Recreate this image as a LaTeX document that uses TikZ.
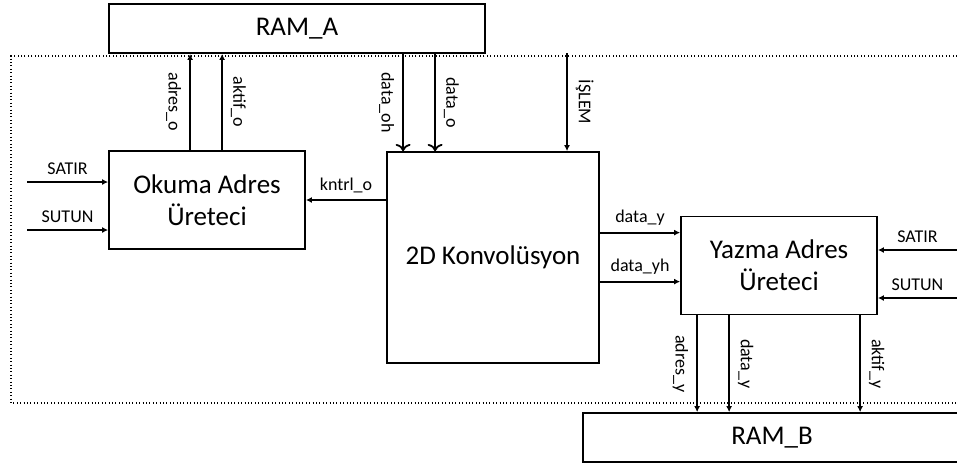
\documentclass[tikz,border=0pt]{standalone}
\usepackage{fontspec}
\setmainfont{Carlito}
\usetikzlibrary{arrows.meta}

\begin{document}
\begin{tikzpicture}[x=0.5pt, y=-0.5pt, line width=0.9pt,
  blok/.style={draw, rectangle, align=center, font=\fontsize{13.5}{16}\selectfont},
  sinyal/.style={-{Latex[length=3pt,width=3pt]}},
  etiket/.style={font=\fontsize{9}{11}\selectfont},
  dikey/.style={etiket, rotate=-90, inner sep=4pt},
  noktali/.style={line width=0.7pt, dash pattern=on 0.5pt off 1.2pt}]
\useasboundingbox (0,0) rectangle (957,463);
\clip (0,0) rectangle (957,463);

% kesikli bolge
\draw[noktali] (957,56) -| (11,403) -- (957,403);

% bloklar
\node[blok, minimum width=188pt, minimum height=24.5pt] (ram_a) at (297,28.5) {RAM\_A};
\node[blok, minimum width=98pt, minimum height=49pt] (okuma) at (207,200) {Okuma Adres\\Üreteci};
\node[blok, minimum width=106pt, minimum height=105.5pt] (conv) at (493,257.5) {2D Konvolüsyon};
\node[blok, minimum width=98pt, minimum height=49pt] (yazma) at (779,265.5) {Yazma Adres\\Üreteci};
\node[blok, minimum width=189pt, minimum height=24.5pt] (ram_b) at (772,437.5) {RAM\_B};

% dis girisler
\coordinate (sol_satir) at (27,182);
\coordinate (sol_sutun) at (27,230);
\coordinate (sag_satir) at (957,250);
\coordinate (sag_sutun) at (957,298);
\coordinate (islem) at (567,53);

% okuma adres ureteci
\draw[sinyal] (sol_satir) -- (sol_satir -| okuma.west) node[etiket, midway, above] {SATIR};
\draw[sinyal] (sol_sutun) -- (sol_sutun -| okuma.west) node[etiket, midway, above] {SUTUN};
\draw[sinyal] (okuma.north west) ++(82,0) coordinate (ao) -- (ao |- ram_a.south) node[dikey, midway, anchor=north] {adres\_o};
\draw[sinyal] (okuma.north west) ++(114,0) coordinate (ko) -- (ko |- ram_a.south) node[dikey, midway, anchor=south] {aktif\_o};

% konvolusyon
\draw[sinyal] (conv.north west) ++(17,0) coordinate (doh) -- (doh |- ram_a.south) [<-] node[dikey, midway, anchor=north] {data\_oh};
\draw[sinyal] (conv.north west) ++(49,0) coordinate (do) -- (do |- ram_a.south) [<-] node[dikey, midway, anchor=south] {data\_o};
\draw[sinyal] (islem) -- (islem |- conv.north) node[dikey, midway, anchor=south] {İŞLEM};
\draw[sinyal] (conv.west |- okuma.east) -- (okuma.east) node[etiket, midway, above] {kntrl\_o};
\path (yazma.north west) ++(0,17) coordinate (dy);
\path (yazma.north west) ++(0,66) coordinate (dyh);
\draw[sinyal] (conv.east |- dy) -- (dy) node[etiket, midway, above] {data\_y};
\draw[sinyal] (conv.east |- dyh) -- (dyh) node[etiket, midway, above] {data\_yh};

% yazma adres ureteci
\draw[sinyal] (sag_satir) -- (sag_satir -| yazma.east) node[etiket, midway, above] {SATIR};
\draw[sinyal] (sag_sutun) -- (sag_sutun -| yazma.east) node[etiket, midway, above] {SUTUN};
\draw[sinyal] (yazma.south west) ++(17,0) coordinate (ay) -- (ay |- ram_b.north) node[dikey, midway, anchor=north] {adres\_y};
\draw[sinyal] (yazma.south west) ++(49,0) coordinate (yy) -- (yy |- ram_b.north) node[dikey, midway, anchor=south] {data\_y};
\draw[sinyal] (yazma.south west) ++(180,0) coordinate (ky) -- (ky |- ram_b.north) node[dikey, midway, anchor=south] {aktif\_y};
\end{tikzpicture}
\end{document}
